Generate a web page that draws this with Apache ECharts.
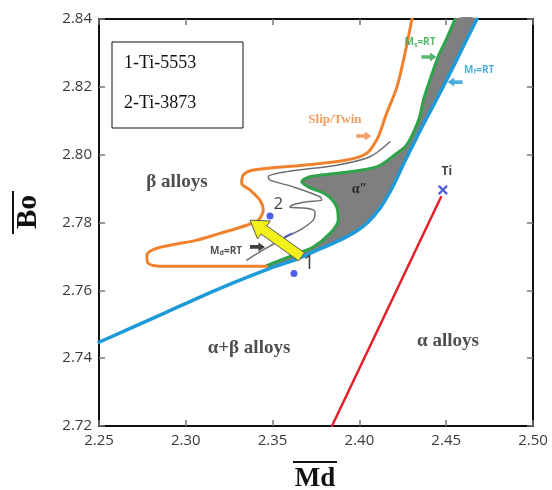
<!DOCTYPE html>
<html><head><meta charset="utf-8">
<script src="https://cdn.jsdelivr.net/npm/echarts@6/dist/echarts.min.js"></script>
<style>html,body{margin:0;padding:0;background:#fff}#c{width:552px;height:490px}</style>
</head><body><div id="c"></div>
<script>
// ---- data ----
const xTicks = [2.25, 2.30, 2.35, 2.40, 2.45, 2.50];
const yTicks = [2.72, 2.74, 2.76, 2.78, 2.80, 2.82, 2.84];

// Mf = RT boundary (blue)
const mfLine = [[2.25,2.7447],[2.2851,2.7527],[2.3197,2.7606],[2.3485,2.7665],[2.3640,2.7692],[2.3773,2.7722],[2.3888,2.7748],[2.3975,2.7772],[2.4049,2.7801],[2.4119,2.7842],[2.4176,2.7890],[2.4222,2.7937],[2.4268,2.7987],[2.4314,2.8034],[2.4366,2.8087],[2.4424,2.8143],[2.4487,2.8205],[2.4551,2.8270],[2.4614,2.8335],[2.4677,2.84]];
// Ms = RT boundary (green)
const msLine = [[2.3466,2.7673],[2.3619,2.7704],[2.3734,2.7728],[2.3831,2.7768],[2.3878,2.7807],[2.3869,2.7846],[2.3812,2.7881],[2.3706,2.7905],[2.3668,2.7920],[2.3715,2.7935],[2.3869,2.7945],[2.4100,2.7964],[2.4215,2.8004],[2.4266,2.8025],[2.4305,2.8058],[2.4345,2.8108],[2.4372,2.8167],[2.4410,2.8226],[2.4453,2.8288],[2.4499,2.8338],[2.4551,2.84]];
// Slip/Twin boundary (orange)
const slipTwinLine = [[2.4303,2.84],[2.4263,2.8300],[2.4216,2.8199],[2.4153,2.8117],[2.4124,2.8073],[2.4099,2.8043],[2.4042,2.8004],[2.3927,2.7984],[2.3677,2.7969],[2.3389,2.7955],[2.3331,2.7940],[2.3322,2.7915],[2.3370,2.7896],[2.3427,2.7866],[2.3446,2.7837],[2.3418,2.7807],[2.3351,2.7792],[2.3197,2.7768],[2.3064,2.7748],[2.2834,2.7724],[2.2776,2.7704],[2.2782,2.7680],[2.2851,2.7671],[2.3157,2.7671],[2.3466,2.7671]];
// Md = RT boundary (grey)
const mdLine = [[2.4176,2.8038],[2.4061,2.7994],[2.3869,2.7969],[2.3581,2.7950],[2.3475,2.7935],[2.3485,2.7925],[2.3619,2.7905],[2.3773,2.7876],[2.3783,2.7866],[2.3696,2.7861],[2.3610,2.7851],[2.3600,2.7845],[2.3696,2.7842],[2.3744,2.7832],[2.3734,2.7807],[2.3658,2.7778],[2.3581,2.7758],[2.3446,2.7719],[2.3351,2.7689]];
const mdDash = [[2.3571,2.7758],[2.3610,2.7768]];
// alpha / alpha+beta boundary (red)
const alphaBoundary = [[2.3842,2.72],[2.4470,2.7875]];
// alloys
const alloyNames = ['1','2'];
const alloyPoints = [[2.3623,2.7650],[2.3485,2.7819]];
const alloyLabelPos = [[2.3710,2.7680],[2.3533,2.7853]];
const alloyLabelSize = [20, 17];
const tiPoint = [2.4481,2.7896];
const tiLabelPos = [2.4504,2.7949];
// yellow shift arrow: from alloy 1 towards alloy 2 region
const shiftArrow = [2.3667,2.7699,2.3370,2.7807];
const legendItems = ['1-Ti-5553','2-Ti-3873'];

const regionLabels = [
  {name:'β alloys', pos:[2.2949,2.7919], size:19, color:'#222', bold:true},
  {name:'α+β alloys', pos:[2.3364,2.7430], size:19, color:'#222', bold:true},
  {name:'α alloys', pos:[2.4510,2.7450], size:19, color:'#222', bold:true},
  {name:'α″', pos:[2.4000,2.7898], size:14, color:'#111', bold:true},
  {name:'Slip/Twin', pos:[2.3859,2.8102], size:13, color:'#f0853a', bold:true}
];
const boundaryLabels = [
  {text:'M{s|s}=RT', pos:[2.4349,2.8332], color:'#2ea34a'},
  {text:'M{s|f}=RT', pos:[2.4690,2.8250], color:'#1e9ad8'},
  {text:'M{s|d}=RT', pos:[2.3232,2.7716], color:'#222'}
];
const smallArrows = [
  {pos:[2.4026,2.8055], dir:0, color:'#f0853a'},
  {pos:[2.4401,2.8288], dir:0, color:'#2ea34a'},
  {pos:[2.4551,2.8214], dir:180, color:'#1e9ad8'},
  {pos:[2.3413,2.7728], dir:0, color:'#111'}
];

// ---- chart ----
const chart = echarts.init(document.getElementById('c'), null, {renderer:'canvas'});
const serif = '"Liberation Serif","DejaVu Serif",serif';
const sans = '"Open Sans","Liberation Sans",sans-serif';
const GRID = {left:99, right:19, top:19, bottom:64};

function axisX(pos, labels){
  return {type:'value', position:pos, min:xTicks[0], max:xTicks[xTicks.length-1], interval:0.05,
    axisLine:{show:true, onZero:false, lineStyle:{color:'#111', width:2}},
    axisTick:{show:true, inside:true, length:6, lineStyle:{color:'#777', width:1.5}},
    axisLabel:{show:labels, margin:7, color:'#3a3a3a', fontSize:15, fontFamily:sans, formatter:v=>v.toFixed(2)},
    splitLine:{show:false}};
}
function axisY(pos, labels){
  return {type:'value', position:pos, min:yTicks[0], max:yTicks[yTicks.length-1], interval:0.02,
    axisLine:{show:true, onZero:false, lineStyle:{color:'#111', width:2}},
    axisTick:{show:true, inside:true, length:6, lineStyle:{color:'#777', width:1.5}},
    axisLabel:{show:labels, margin:7, color:'#3a3a3a', fontSize:15, fontFamily:sans, formatter:v=>v.toFixed(2)},
    splitLine:{show:false}};
}

function lineSeries(name, data, color, width, z, smooth){
  return {name, type:'line', data, showSymbol:false, symbol:'none', smooth:smooth, z:z,
    lineStyle:{color, width, cap:'round', join:'round'}, silent:true, animation:false};
}

const option = {
  animation:false,
  backgroundColor:'#fff',
  grid:GRID,
  xAxis:[axisX('bottom', true), axisX('top', false)],
  yAxis:[axisY('left', true), axisY('right', false)],
  series:[
    // alpha'' region fill between Ms and Mf
    {type:'custom', z:1, silent:true, data:[[msLine[0][0], msLine[0][1]]],
      renderItem:(params, api)=>{
        const upper = msLine.map(p=>api.coord(p));
        const lower = mfLine.filter(p=>p[0] > msLine[0][0]).reverse().map(p=>api.coord(p));
        return {type:'polygon', shape:{points:upper.concat(lower), smooth:0.25}, style:{fill:'#7f7f7f'}};
      }},
    lineSeries('Mf=RT', mfLine, '#1e9ad8', 3.5, 3, 0.3),
    lineSeries('Ms=RT', msLine, '#2ea34a', 3, 4, 0.3),
    lineSeries('Slip/Twin', slipTwinLine, '#f0822f', 3, 5, 0.3),
    lineSeries('Md=RT', mdLine, '#6e6e6e', 1.5, 5, 0.3),
    lineSeries('dash', mdDash, '#4a5ad8', 1.5, 6, false),
    lineSeries('alpha', alphaBoundary, '#e5202a', 2.5, 5, false),
    // yellow arrow
    {type:'custom', z:8, silent:true, data:[shiftArrow],
      renderItem:(params, api)=>{
        const a = api.coord([api.value(0), api.value(1)]);
        const b = api.coord([api.value(2), api.value(3)]);
        const dx=b[0]-a[0], dy=b[1]-a[1], L=Math.hypot(dx,dy);
        const ux=dx/L, uy=dy/L, nx=-uy, ny=ux;
        const hw=5, HW=11, HL=17;
        const bx=b[0]-ux*HL, by=b[1]-uy*HL;
        const pts=[[a[0]+nx*hw,a[1]+ny*hw],[bx+nx*hw,by+ny*hw],[bx+nx*HW,by+ny*HW],[b[0],b[1]],
                   [bx-nx*HW,by-ny*HW],[bx-nx*hw,by-ny*hw],[a[0]-nx*hw,a[1]-ny*hw]];
        return {type:'polygon', shape:{points:pts}, style:{fill:'#f2f21a', stroke:'#5a5a5a', lineWidth:1}};
      }},
    // alloy dots
    {type:'scatter', z:9, symbol:'circle', symbolSize:7, itemStyle:{color:'#1d35e6'},
      data:alloyPoints.map((p,i)=>({value:p, name:alloyNames[i]})), silent:true},
    // alloy number labels
    {type:'scatter', z:9, symbolSize:0, silent:true,
      data:alloyLabelPos.map((p,i)=>({value:p, name:alloyNames[i],
        label:{show:true, position:'inside', formatter:alloyNames[i], color:'#111', fontSize:alloyLabelSize[i], fontFamily:sans}}))},
    // Ti
    {type:'scatter', z:9, silent:true, symbol:'path://M0,1.6 L1.6,0 L5,3.4 L8.4,0 L10,1.6 L6.6,5 L10,8.4 L8.4,10 L5,6.6 L1.6,10 L0,8.4 L3.4,5 Z',
      symbolSize:10, itemStyle:{color:'#2233cc'}, data:[{value:tiPoint, name:'Ti'}]},
    {type:'scatter', z:9, symbolSize:0, silent:true, data:[{value:tiLabelPos, name:'Ti'}],
      label:{show:true, position:'inside', formatter:'Ti', color:'#111', fontSize:12, fontWeight:'bold', fontFamily:sans}},
    // region labels
    {type:'scatter', z:10, symbolSize:0, silent:true,
      data:regionLabels.map(r=>({value:r.pos, name:r.name,
        label:{show:true, position:'inside', formatter:r.name, color:r.color, fontSize:r.size, fontWeight:r.bold?'bold':'normal', fontFamily:serif}}))},
    // boundary labels
    {type:'scatter', z:10, symbolSize:0, silent:true,
      data:boundaryLabels.map(r=>({value:r.pos,
        label:{show:true, position:'inside', formatter:r.text, color:r.color, fontSize:10, fontWeight:'bold', fontFamily:sans,
          rich:{s:{fontSize:7, fontWeight:'bold', color:r.color, fontFamily:sans, padding:[5,0,0,0]}}}}))},
    // small arrows
    {type:'scatter', z:10, silent:true, symbol:'path://M0,3 L9,3 L9,0 L16,5 L9,10 L9,7 L0,7 Z', symbolSize:[15,9],
      data:smallArrows.map(a=>({value:a.pos, symbolRotate:a.dir, itemStyle:{color:a.color}}))}
  ],
  graphic:[
    {type:'rect', z:20, shape:{x:112, y:42, width:131, height:86}, style:{fill:'#fff', stroke:'#111', lineWidth:1}},
    {type:'text', z:21, x:124, y:63, style:{text:legendItems[0], font:'18px '+serif, fill:'#111', verticalAlign:'middle'}},
    {type:'text', z:21, x:124, y:103, style:{text:legendItems[1], font:'18px '+serif, fill:'#111', verticalAlign:'middle'}},
    // axis titles with overbars
    {type:'text', z:21, x:315, y:479, style:{text:'Md', font:'bold 27px '+serif, fill:'#111', align:'center', verticalAlign:'middle'}},
    {type:'rect', z:21, shape:{x:293, y:461, width:44, height:2}, style:{fill:'#111'}},
    {type:'text', z:21, x:29, y:212, rotation:Math.PI/2, style:{text:'Bo', font:'bold 29px '+serif, fill:'#111', align:'center', verticalAlign:'middle'}},
    {type:'rect', z:21, shape:{x:12, y:191, width:2, height:43}, style:{fill:'#111'}}
  ]
};
chart.setOption(option);
</script>
</body></html>
